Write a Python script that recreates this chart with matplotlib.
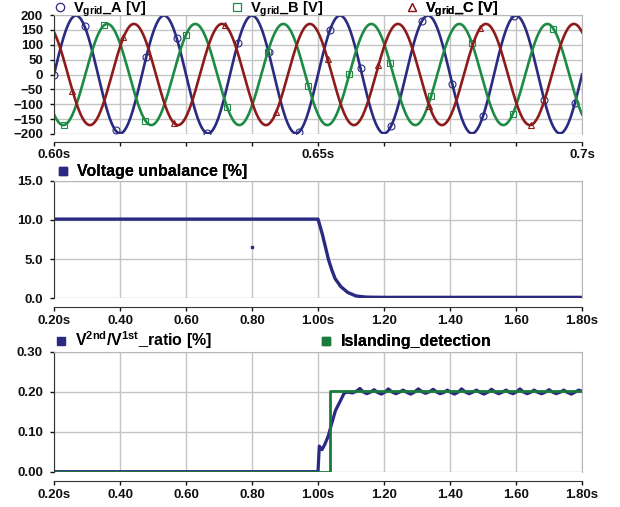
import numpy as np
import matplotlib.pyplot as plt
from matplotlib.lines import Line2D

plt.rcParams['font.family'] = ['Liberation Sans', 'DejaVu Sans']
plt.rcParams['font.weight'] = 'bold'

# --- top panel: three grid voltages (amplitude [V], phase [deg])
freq = 60.0
v_amp = [198, 170, 170]
v_phase = [0, 232, 123]
marker_start = [0.600, 0.6018, 0.60345]
marker_step = [0.0058, 0.00773, 0.00966]
v_names = [r'V$\mathregular{_{grid}}$_A [V]', r'V$\mathregular{_{grid}}$_B [V]',
           r'V$\mathregular{_{grid}}$_C [V]']
v_legend_x = [60, 237, 412]   # legend marker positions (px)

# --- middle panel: voltage unbalance [%]
unb_t = [0.20, 1.000, 1.013, 1.032, 1.042, 1.052, 1.069, 1.090, 1.115, 1.146, 1.20, 1.80]
unb_v = [10.1, 10.1, 8.2, 4.9, 3.6, 2.5, 1.5, 0.75, 0.3, 0.15, 0.12, 0.12]
outlier_t = [0.80]
outlier_v = [6.5]

# --- bottom panel: V2nd/V1st ratio and islanding flag
ratio_t = [0.20, 1.000, 1.004, 1.012, 1.0205, 1.031, 1.041, 1.053, 1.069, 1.079, 1.089,
           1.105, 1.116, 1.127, 1.138, 1.148, 1.159, 1.170, 1.181, 1.192, 1.203, 1.213,
           1.225, 1.236, 1.247, 1.258, 1.270, 1.281, 1.292, 1.304, 1.315, 1.326, 1.338,
           1.349, 1.360, 1.370, 1.381, 1.392, 1.403, 1.414, 1.425, 1.435, 1.447, 1.458,
           1.469, 1.480, 1.492, 1.503, 1.515, 1.526, 1.537, 1.548, 1.559, 1.570, 1.581,
           1.591, 1.602, 1.612, 1.623, 1.634, 1.645, 1.655, 1.667, 1.678, 1.689, 1.700,
           1.711, 1.722, 1.734, 1.745, 1.756, 1.768, 1.779, 1.790, 1.800]
ratio_v = [0.0, 0.0, 0.064, 0.055, 0.068, 0.089, 0.119, 0.153, 0.179, 0.196, 0.199,
           0.197, 0.201, 0.208, 0.199, 0.195, 0.199, 0.205, 0.198, 0.194, 0.199, 0.207,
           0.199, 0.195, 0.199, 0.204, 0.198, 0.194, 0.199, 0.207, 0.200, 0.196, 0.200,
           0.206, 0.199, 0.195, 0.198, 0.204, 0.198, 0.194, 0.199, 0.207, 0.199, 0.195,
           0.199, 0.204, 0.198, 0.194, 0.199, 0.206, 0.199, 0.195, 0.199, 0.204, 0.198,
           0.195, 0.200, 0.207, 0.199, 0.195, 0.199, 0.204, 0.198, 0.195, 0.199, 0.205,
           0.199, 0.195, 0.199, 0.204, 0.198, 0.194, 0.199, 0.204, 0.201]
island_t = [0.20, 1.037, 1.037, 1.80]
island_v = [0.0, 0.0, 0.2026, 0.2026]

navy = '#2a2a82'
green = '#1d8a45'
red = '#8e1b1b'
dkgreen = '#1a7a3c'
grid_c = '#c4c4c4'

W, H = 620, 507
AX_L, AX_R = 54, 582
HL = 0.8


def style_axes(ax, offset_pt):
    for s in ['top', 'right']:
        ax.spines[s].set_color('#b8b8b8')
    ax.spines['left'].set_color('#333333')
    ax.spines['bottom'].set_color('#333333')
    ax.spines['bottom'].set_position(('outward', offset_pt))
    ax.grid(True, color=grid_c, linewidth=1.0)
    ax.set_axisbelow(True)
    ax.tick_params(axis='y', direction='out', length=3, width=1, pad=5,
                   labelsize=9.5, colors='#111111')
    ax.tick_params(axis='x', direction='out', length=3, width=1, pad=2.5,
                   labelsize=9.5, colors='#111111')
    for lab in ax.get_xticklabels() + ax.get_yticklabels():
        lab.set_fontweight('bold')


def put_legend(ax, handle, label, marker_x, y_anchor, fs=11.5):
    fs_px = fs * 100 / 72
    x0 = (marker_x - HL * fs_px / 2 - AX_L) / (AX_R - AX_L)
    lg = ax.legend([handle], [label], loc='lower left', bbox_to_anchor=(x0, y_anchor),
                   frameon=False, borderaxespad=0, borderpad=0, handlelength=HL,
                   handletextpad=0.5, prop={'weight': 'bold', 'size': fs})
    ax.add_artist(lg)


fig = plt.figure(figsize=(6.2, 5.07), dpi=100)


def add_ax(y0, y1):
    return fig.add_axes([AX_L / W, 1 - y1 / H, (AX_R - AX_L) / W, (y1 - y0) / H])


# ---------------- top panel
ax1 = add_ax(15, 134)
t = np.linspace(0.6, 0.7, 2001)
colors = [navy, green, red]
mk = ['o', 's', '^']
for amp, ph, c, m, t0, st, name, lx in zip(v_amp, v_phase, colors, mk, marker_start,
                                           marker_step, v_names, v_legend_x):
    y = amp * np.sin(2 * np.pi * freq * (t - 0.6) + np.deg2rad(ph))
    idx = np.searchsorted(t, np.arange(t0, 0.7005, st))
    idx = idx[idx < len(t)]
    ax1.plot(t, y, color=c, lw=1.9, marker=m, markevery=list(idx), ms=5,
             mfc='none', mec=c, mew=0.8)
    h = Line2D([], [], color=c, marker=m, ls='none', ms=6, mfc='none', mew=0.9)
    put_legend(ax1, h, name, lx, 1 - 4.0 / 119, fs=10.5)
ax1.set_xlim(0.6, 0.7)
ax1.set_ylim(-200, 200)
ax1.set_yticks(np.arange(-200, 201, 50))
ax1.set_xticks(np.linspace(0.6, 0.7, 9))
ax1.set_xticklabels(['0.60s', '', '', '', '0.65s', '', '', '', '0.7s'])
style_axes(ax1, 5.6)

# ---------------- middle panel
ax2 = add_ax(180.7, 298.3)
ax2.plot(unb_t, unb_v, color=navy, lw=2.4)
ax2.plot(outlier_t, outlier_v, color=navy, marker='s', ms=1.6, ls='none')
ax2.set_xlim(0.2, 1.8)
ax2.set_ylim(0, 15)
ax2.set_yticks([0, 5, 10, 15])
ax2.set_yticklabels(['0.0', '5.0', '10.0', '15.0'])
xt = np.linspace(0.2, 1.8, 9)
xl = ['0.20s', '0.40', '0.60', '0.80', '1.00s', '1.20', '1.40', '1.60', '1.80s']
ax2.set_xticks(xt)
ax2.set_xticklabels(xl)
style_axes(ax2, 6.5)
put_legend(ax2, Line2D([], [], color=navy, marker='s', ls='none', ms=5.5),
           'Voltage unbalance [%]', 63, 1 + 1.5 / 117.6)

# ---------------- bottom panel
ax3 = add_ax(351.7, 471.7)
ax3.plot(ratio_t, ratio_v, color=navy, lw=2.3)
ax3.plot(island_t, island_v, color=dkgreen, lw=2.0)
ax3.set_xlim(0.2, 1.8)
ax3.set_ylim(0, 0.3)
ax3.set_yticks([0, 0.1, 0.2, 0.3])
ax3.set_yticklabels(['0.00', '0.10', '0.20', '0.30'])
ax3.set_xticks(xt)
ax3.set_xticklabels(xl)
style_axes(ax3, 6.7)
put_legend(ax3, Line2D([], [], color=navy, marker='s', ls='none', ms=5.5),
           r'V$\mathregular{^{2nd}}$/V$\mathregular{^{1st}}$_ratio [%]', 61, 1 + 0.5 / 120)
put_legend(ax3, Line2D([], [], color=dkgreen, marker='s', ls='none', ms=5.5),
           'Islanding_detection', 326, 1 + 2.5 / 120)

fig.savefig('out.png', dpi=100)
